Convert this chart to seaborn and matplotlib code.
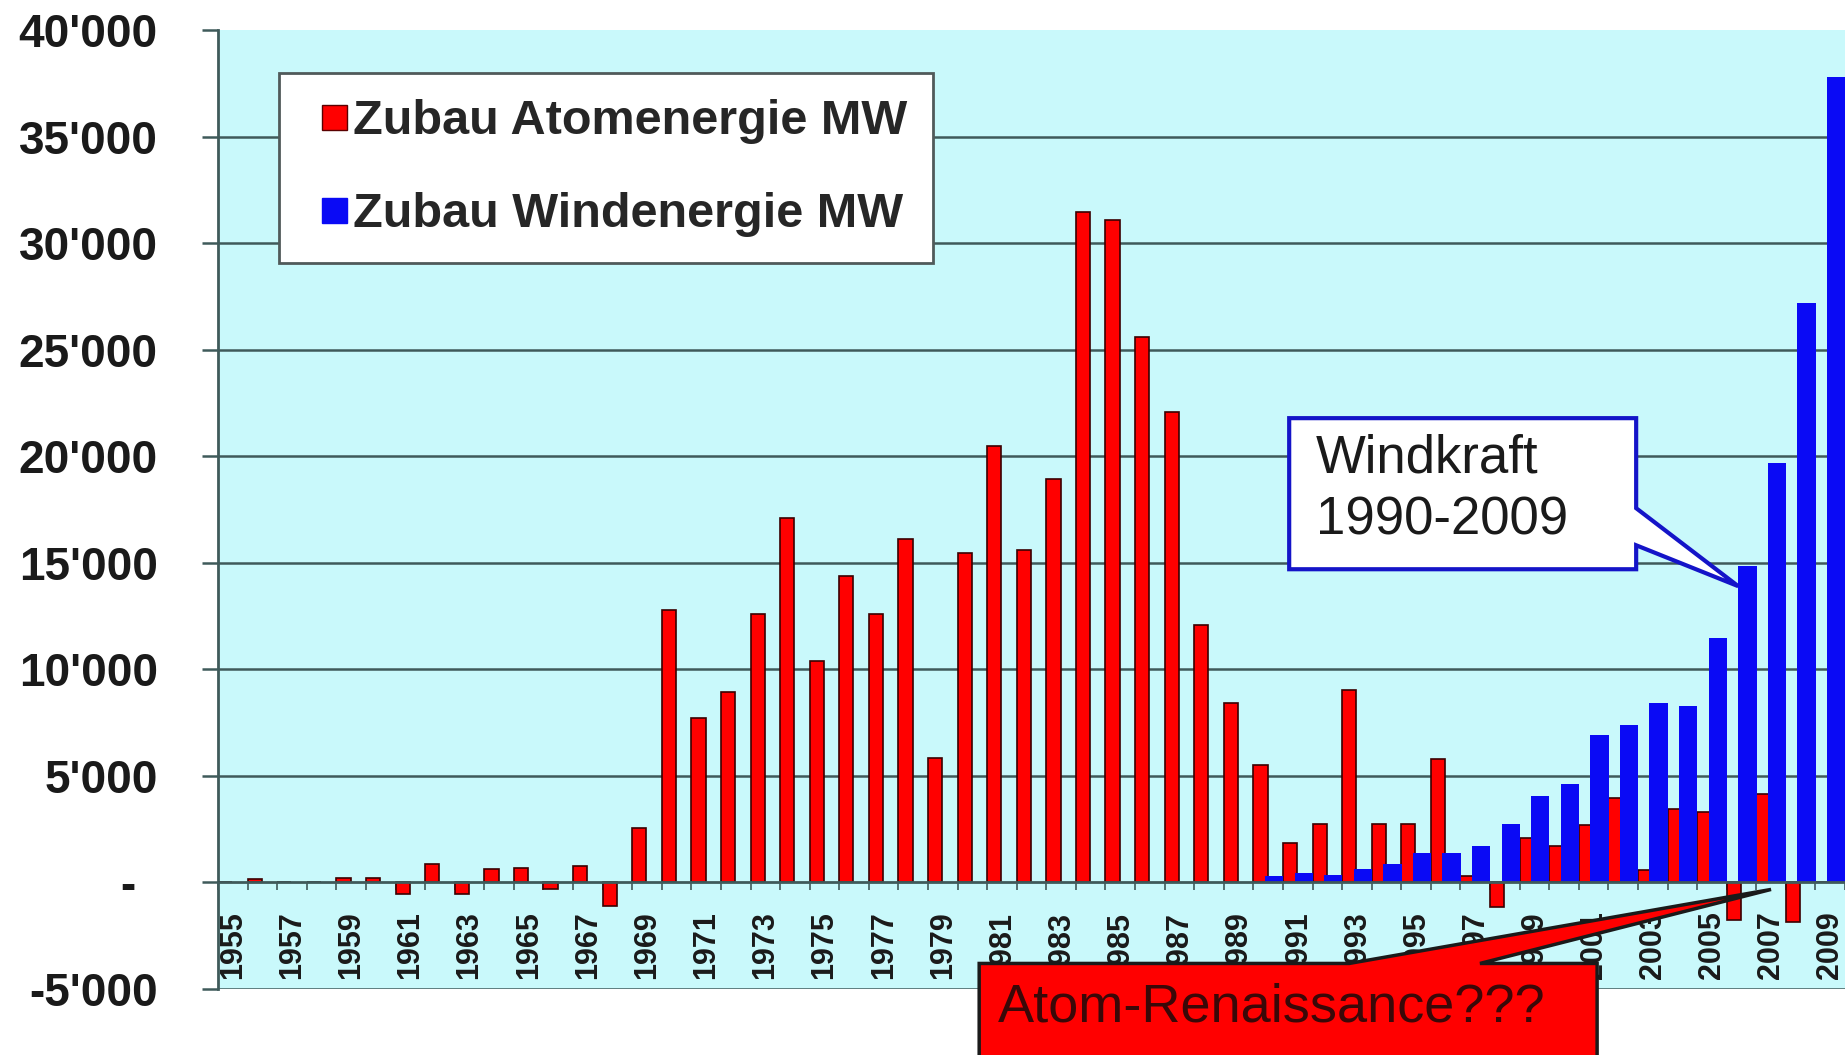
import matplotlib
matplotlib.use("Agg")
import matplotlib.pyplot as plt
from matplotlib.lines import Line2D
from matplotlib.patches import Polygon
import pandas as pd
import seaborn as sns

# ---- data -------------------------------------------------------------
YEARS = [1955, 1956, 1957, 1958, 1959, 1960, 1961, 1962, 1963, 1964,
         1965, 1966, 1967, 1968, 1969, 1970, 1971, 1972, 1973, 1974,
         1975, 1976, 1977, 1978, 1979, 1980, 1981, 1982, 1983, 1984,
         1985, 1986, 1987, 1988, 1989, 1990, 1991, 1992, 1993, 1994,
         1995, 1996, 1997, 1998, 1999, 2000, 2001, 2002, 2003, 2004,
         2005, 2006, 2007, 2008, 2009]

ATOM_MW = [0, 150, 0, 0, 190, 190, -550, 860, -550, 650,
           670, -310, 780, -1100, 2550, 12800, 7700, 8950, 12600, 17100,
           10400, 14400, 12600, 16100, 5850, 15450, 20500, 15600, 18950, 31450,
           31100, 25600, 22050, 12100, 8400, 5500, 1850, 2750, 9050, 2750,
           2750, 5800, 300, -1150, 2100, 1700, 2700, 3950, 580, 3430,
           3320, -1750, 4150, -1850, 0]

WIND_YEARS = [1990, 1991, 1992, 1993, 1994, 1995, 1996, 1997, 1998, 1999,
              2000, 2001, 2002, 2003, 2004, 2005, 2006, 2007, 2008, 2009]
WIND_MW = [300, 440, 360, 620, 860, 1400, 1400, 1700, 2720, 4050,
           4620, 6900, 7400, 8430, 8280, 11480, 14840, 19670, 27180, 37800]

Y_TICKS = [-5000, 0, 5000, 10000, 15000, 20000, 25000, 30000, 35000, 40000]
Y_LABELS = ["-5'000", "- \u2009", "5'000", "10'000", "15'000", "20'000",
            "25'000", "30'000", "35'000", "40'000"]

SERIES_NAMES = ["Zubau Atomenergie MW", "Zubau Windenergie MW"]

# ---- style ------------------------------------------------------------
BG = "#c9f9fb"
GRID = "#3f5a5a"
RED = "#ff0000"
BLUE = "#0a0af5"
TXT = "#1a1a1a"

sns.set_theme(style="white")
plt.rcParams["font.family"] = ["Liberation Sans", "DejaVu Sans"]

atom = pd.DataFrame({"year": [str(y) for y in YEARS], "mw": ATOM_MW})
wind = pd.DataFrame({"year": [str(y) for y in WIND_YEARS], "mw": WIND_MW})
order = atom["year"].tolist()

fig = plt.figure(figsize=(18.45, 10.55), dpi=100)
ax = fig.add_axes([0.1182, 0.0626, 0.8818, 0.9090])
ax.set_facecolor(BG)

# red bars sit in the left half of each year, blue ones overlap to the right
sns.barplot(data=atom, x="year", y="mw", order=order, color=RED,
            saturation=1, width=0.48, edgecolor="#3a0000", linewidth=1.2,
            errorbar=None, ax=ax, zorder=3)
for p in ax.containers[0]:
    p.set_x(p.get_x() - 0.26)

sns.barplot(data=wind, x="year", y="mw", order=order, color=BLUE,
            saturation=1, width=0.62, linewidth=0,
            errorbar=None, ax=ax, zorder=4)
for p in ax.containers[1]:
    p.set_x(p.get_x() + 0.20)

# ---- axes -------------------------------------------------------------
# move the category axis to y=0 first (this rebuilds the ticks)
ax.spines["bottom"].set_position(("data", 0))
ax.spines["bottom"].set_color(GRID)
ax.spines["bottom"].set_linewidth(2)
ax.spines["bottom"].set_zorder(5)
ax.spines["left"].set_color(GRID)
ax.spines["left"].set_linewidth(2)
ax.spines[["top", "right"]].set_visible(False)

ax.set_xlim(-0.5, len(YEARS) - 0.5)
ax.set_ylim(Y_TICKS[0], Y_TICKS[-1])
ax.set_xlabel("")
ax.set_ylabel("")

for t in Y_TICKS[:-1]:
    if t != 0:
        ax.axhline(t, color=GRID, linewidth=1.8, zorder=1)

ax.set_yticks(Y_TICKS)
ax.set_yticklabels(Y_LABELS, fontsize=33, fontweight="bold", color=TXT)
ax.tick_params(axis="y", left=True, length=11.5, width=1.8, color=GRID,
               pad=32, direction="out")

ax.set_xticks([i - 0.5 for i in range(len(YEARS) + 1)], minor=True)
ax.tick_params(axis="x", which="major", bottom=True, length=0, pad=21)
ax.tick_params(axis="x", which="minor", bottom=True, length=6, width=1.2,
               color=GRID, direction="out")
ax.set_xticks(range(0, len(YEARS), 2))
ax.set_xticklabels([str(y) for y in YEARS[::2]], rotation=90,
                   fontsize=22, fontweight="bold", color=TXT,
                   family=["Liberation Sans Narrow", "Liberation Sans"])

# ---- legend -----------------------------------------------------------
handles = [
    Line2D([0], [0], marker="s", linestyle="none", markersize=18,
           markerfacecolor=RED, markeredgecolor="#5a0000", markeredgewidth=1),
    Line2D([0], [0], marker="s", linestyle="none", markersize=18,
           markerfacecolor=BLUE, markeredgecolor=BLUE, markeredgewidth=1),
]
leg = ax.legend(handles, SERIES_NAMES, loc="upper left",
                bbox_to_anchor=(0.0375, 0.955), borderaxespad=0,
                prop={"weight": "bold", "size": 35}, frameon=True,
                fancybox=False, edgecolor="#505a5a", facecolor="white",
                framealpha=1, handlelength=1.2, handletextpad=-0.2,
                borderpad=0.53, labelspacing=1.0)
leg.get_frame().set_linewidth(2)
leg.set_zorder(6)

# ---- callouts ---------------------------------------------------------
wind_box = Polygon([(35.71, 21784), (47.44, 21784), (47.44, 17560),
                    (50.89, 13900), (47.44, 15820), (47.44, 14695),
                    (35.71, 14695)],
                   closed=True, facecolor="white", edgecolor="#1414c8",
                   linewidth=3, zorder=6)
ax.add_patch(wind_box)
ax.text(36.62, 18450, "Windkraft\n1990-2009", fontsize=38, ha="left",
        va="center", color=TXT, linespacing=1.3, zorder=7)

atom_box = Polygon([(25.23, -3803), (37.74, -3803), (52.0, -330),
                    (42.16, -3803), (46.12, -3803), (46.12, -8300),
                    (25.23, -8300)],
                   closed=True, facecolor=RED, edgecolor=TXT,
                   linewidth=2.5, zorder=6, clip_on=False)
ax.add_patch(atom_box)
ax.text(25.87, -5850, "Atom-Renaissance???", fontsize=39, ha="left",
        va="center", color="#3a0808", zorder=7, clip_on=False)

fig.savefig("out.png", dpi=100, facecolor="white")
